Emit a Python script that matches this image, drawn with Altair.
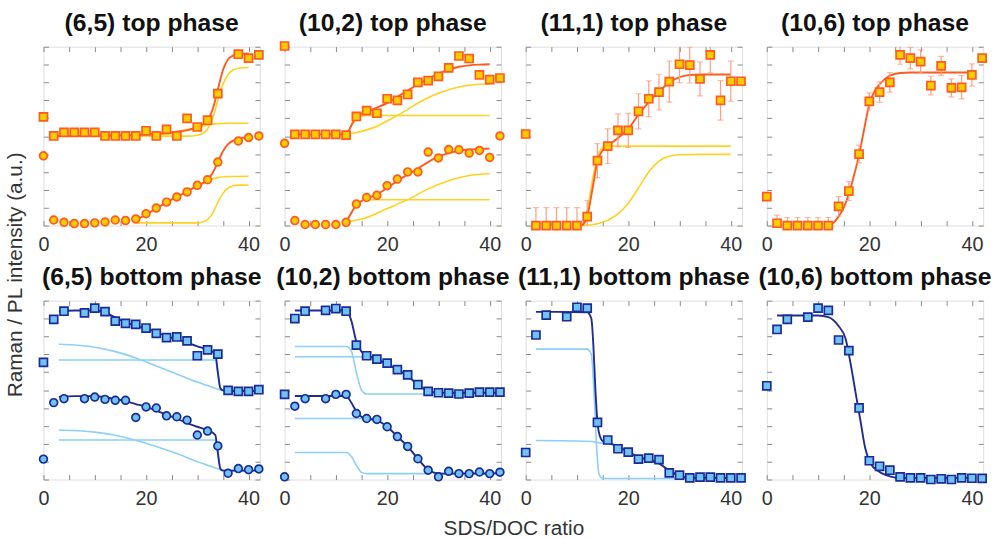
import altair as alt
import pandas as pd

# ---------------- data ----------------
X_PTS = list(range(0, 43, 2))

# top phase panels
TOP65_SQ = [6.08, 5.01, 5.21, 5.21, 5.21, 5.21, 5.01, 5.01, 5.01, 5.01, 5.30, 5.01, 5.38, 5.01, 5.99, 5.51, 5.89, 7.38, None, 9.58, 9.36, 9.54]
TOP65_CI = [3.90, 0.31, 0.18, 0.11, 0.11, 0.15, 0.20, 0.31, 0.28, 0.37, 0.66, 0.98, 1.31, 1.60, 1.88, 2.25, 2.56, 3.55, None, 4.73, 4.92, 5.01]
TOP65_SQ_FIT_X = [2, 10, 20, 26, 30, 32, 33, 34, 35, 36, 37, 38, 40]
TOP65_SQ_FIT_Y = [5.0, 5.02, 5.1, 5.25, 5.5, 5.9, 6.5, 7.6, 8.7, 9.3, 9.5, 9.6, 9.63]
TOP65_SQ_C1_X = [2, 28, 30, 31, 32, 33, 34, 35, 36, 37, 38, 40]
TOP65_SQ_C1_Y = [5.0, 5.0, 5.05, 5.15, 5.4, 6.0, 7.0, 7.9, 8.45, 8.7, 8.8, 8.84]
TOP65_SQ_C2_X = [2, 20, 24, 28, 30, 32, 34, 36, 40]
TOP65_SQ_C2_Y = [5.0, 5.05, 5.12, 5.3, 5.45, 5.62, 5.7, 5.72, 5.72]
TOP65_CI_FIT_X = [18, 20, 22, 24, 26, 28, 30, 32, 33, 34, 35, 36, 37, 38, 40]
TOP65_CI_FIT_Y = [0.3, 0.62, 0.96, 1.3, 1.6, 1.9, 2.22, 2.55, 2.95, 3.55, 4.15, 4.55, 4.75, 4.85, 4.95]
TOP65_CI_C1_X = [18, 20, 22, 24, 26, 28, 30, 32, 34, 36, 40]
TOP65_CI_C1_Y = [0.3, 0.62, 0.96, 1.3, 1.6, 1.9, 2.22, 2.5, 2.68, 2.74, 2.76]
TOP65_CI_C2_X = [18, 30, 31, 32, 33, 34, 35, 36, 37, 38, 40]
TOP65_CI_C2_Y = [0.15, 0.15, 0.2, 0.35, 0.7, 1.3, 1.8, 2.1, 2.22, 2.26, 2.27]

TOP102_SQ = [10.04, 5.10, 5.10, 5.10, 5.10, 5.10, 5.06, 6.10, 6.43, 6.28, 7.09, 7.00, 7.33, 8.01, 8.10, 8.34, 8.82, 9.48, 9.34, 8.42, 8.16, 8.25]
TOP102_CI = [4.60, 0.28, 0.06, 0.06, 0.06, 0.06, 0.18, 1.20, 1.57, 1.69, 2.23, 2.60, 3.00, 3.00, 4.11, 3.78, 4.25, 4.24, 4.05, 4.20, 3.81, 5.01]
TOP102_SQ_FIT_X = [2, 12, 13, 14, 16, 18, 20, 22, 24, 26, 28, 30, 32, 34, 36, 38, 40]
TOP102_SQ_FIT_Y = [5.1, 5.1, 5.6, 6.1, 6.35, 6.6, 6.85, 7.2, 7.55, 7.9, 8.2, 8.5, 8.72, 8.88, 8.96, 9.0, 9.02]
TOP102_SQ_C1_X = [2, 12, 13, 14, 15, 16, 40]
TOP102_SQ_C1_Y = [5.1, 5.1, 5.55, 5.95, 6.12, 6.15, 6.15]
TOP102_SQ_C2_X = [12, 14, 16, 18, 20, 22, 24, 26, 28, 30, 32, 34, 36, 38, 40]
TOP102_SQ_C2_Y = [5.1, 5.2, 5.35, 5.55, 5.85, 6.15, 6.5, 6.85, 7.15, 7.4, 7.6, 7.75, 7.85, 7.9, 7.92]
TOP102_CI_FIT_X = [12, 13, 14, 16, 18, 20, 22, 24, 26, 28, 30, 32, 34, 36, 38, 40]
TOP102_CI_FIT_Y = [0.18, 0.7, 1.15, 1.5, 1.75, 2.1, 2.5, 2.85, 3.2, 3.55, 3.85, 4.05, 4.18, 4.25, 4.28, 4.3]
TOP102_CI_C1_X = [12, 13, 14, 15, 16, 40]
TOP102_CI_C1_Y = [0.18, 0.7, 1.15, 1.4, 1.44, 1.44]
TOP102_CI_C2_X = [12, 16, 20, 24, 28, 32, 36, 40]
TOP102_CI_C2_Y = [0.18, 0.45, 0.95, 1.45, 2.05, 2.5, 2.8, 2.9]

TOP111_SQ = [5.12, 0.0, 0.0, 0.0, 0.0, 0.0, 0.50, 3.63, 4.44, 5.32, 5.32, 6.39, 7.09, 7.46, 8.05, 9.02, 8.97, 8.20, 9.54, 7.00, 8.07, 8.07]
TOP111_ERR = [None, 1.0, 1.0, 1.0, 1.0, 1.0, 0.9, 0.95, 0.97, 0.92, 0.95, 0.98, 1.0, 1.0, 1.15, 1.03, 1.0, 0.95, 1.0, 1.1, 1.12, None]
TOP111_FIT_X = [11, 12, 13, 14, 15, 16, 18, 20, 22, 24, 26, 28, 30, 32, 34, 36, 40]
TOP111_FIT_Y = [0.0, 0.5, 2.0, 3.6, 4.2, 4.45, 4.9, 5.4, 6.2, 6.9, 7.5, 8.0, 8.3, 8.42, 8.45, 8.45, 8.45]
TOP111_C1_X = [11, 12, 13, 14, 15, 16, 40]
TOP111_C1_Y = [0.0, 0.8, 2.5, 3.8, 4.35, 4.44, 4.44]
TOP111_C2_X = [11, 14, 16, 18, 20, 22, 24, 26, 28, 30, 34, 40]
TOP111_C2_Y = [0.0, 0.1, 0.3, 0.65, 1.25, 2.1, 3.0, 3.6, 3.88, 3.96, 3.98, 3.98]

TOP106_SQ = [1.62, 0.13, 0.0, 0.0, 0.0, 0.0, 0.0, 1.07, 1.93, 4.00, 6.94, 7.46, 8.01, 9.54, 9.36, 9.17, 7.83, 8.93, 7.70, 7.73, 8.42, 9.36]
TOP106_ERR = [None, 0.45, 0.45, 0.45, 0.45, 0.45, 0.45, 0.55, 0.53, 0.50, 0.48, 0.57, 0.55, 0.52, 0.60, 0.65, 0.52, 0.53, 0.50, 0.65, 0.62, None]
TOP106_FIT_X = [12, 13, 14, 15, 16, 17, 18, 19, 20, 21, 22, 24, 26, 28, 39.5]
TOP106_FIT_Y = [0.0, 0.15, 0.5, 1.0, 1.75, 2.8, 3.95, 5.4, 6.8, 7.5, 7.9, 8.38, 8.53, 8.56, 8.56]

# bottom phase panels
BOT65_SQ = [6.55, 8.95, 9.41, None, 9.32, 9.58, 9.39, 8.86, 8.73, 8.67, 8.47, 8.17, 7.93, 7.97, 7.75, 6.92, 7.25, 7.01, 4.98, 4.93, 4.93, 5.02]
BOT65_CI = [1.14, 4.30, 4.52, None, 4.52, 4.61, 4.48, 4.43, 4.43, 3.47, 4.06, 4.00, 3.56, 3.51, 3.32, 2.49, 2.71, 1.88, 0.35, 0.61, 0.55, 0.59]
BOT65_SQ_FIT_X = [3, 6, 10, 12, 14, 16, 18, 20, 22, 24, 26, 28, 30, 32, 33.5, 34.0, 34.5, 35, 36, 40, 42]
BOT65_SQ_FIT_Y = [9.4, 9.45, 9.45, 9.35, 9.05, 8.8, 8.6, 8.45, 8.25, 8.0, 7.85, 7.65, 7.45, 7.25, 7.05, 6.0, 5.1, 4.98, 4.95, 4.95, 4.97]
BOT65_SQ_C1_X = [3, 6, 10, 14, 18, 22, 26, 30, 32, 34, 35, 40]
BOT65_SQ_C1_Y = [7.56, 7.52, 7.4, 7.15, 6.8, 6.35, 5.9, 5.45, 5.25, 5.05, 4.98, 4.98]
BOT65_SQ_C2_X = [3, 33.5, 34.0, 34.5, 35, 40]
BOT65_SQ_C2_Y = [6.68, 6.68, 6.0, 5.1, 4.98, 4.98]
BOT65_CI_FIT_X = [3, 6, 10, 12, 14, 16, 18, 20, 22, 24, 26, 28, 30, 32, 33.5, 34, 34.5, 35, 36, 40, 42]
BOT65_CI_FIT_Y = [4.62, 4.66, 4.66, 4.6, 4.5, 4.38, 4.22, 4.06, 3.85, 3.62, 3.4, 3.15, 2.95, 2.75, 2.5, 1.5, 0.6, 0.5, 0.5, 0.5, 0.5]
BOT65_CI_C1_X = [3, 6, 10, 14, 18, 22, 26, 30, 32, 34, 35, 40]
BOT65_CI_C1_Y = [2.77, 2.74, 2.65, 2.48, 2.2, 1.85, 1.45, 1.0, 0.8, 0.6, 0.5, 0.5]
BOT65_CI_C2_X = [3, 33.5, 34, 34.5, 35, 40]
BOT65_CI_C2_Y = [2.21, 2.21, 1.5, 0.6, 0.5, 0.5]

BOT102_SQ = [4.76, 9.00, 9.41, None, 9.46, 9.56, 9.41, 7.51, 6.92, 6.73, 6.51, 6.14, 5.85, 5.30, 4.93, 4.85, 4.83, 4.78, 4.83, 4.89, 4.89, 4.89]
BOT102_CI = [0.15, 4.10, 4.52, None, 4.52, 4.76, 4.76, 3.69, 3.41, 3.36, 2.95, 2.40, 1.85, 1.16, 0.52, 0.15, 0.46, 0.33, 0.33, 0.42, 0.33, 0.41]
BOT102_SQ_FIT_X = [2, 6, 12, 13, 14, 15, 16, 18, 20, 22, 24, 26, 28, 30, 32, 42]
BOT102_SQ_FIT_Y = [9.45, 9.45, 9.45, 8.9, 7.7, 7.15, 6.96, 6.72, 6.46, 6.14, 5.8, 5.28, 4.95, 4.85, 4.85, 4.85]
BOT102_SQ_C1_X = [2, 12, 13, 14, 15, 16, 28]
BOT102_SQ_C1_Y = [7.44, 7.44, 7.2, 6.0, 5.0, 4.78, 4.78]
BOT102_SQ_C2_X = [2, 14, 16, 18, 20, 22, 24, 26, 28, 30, 40]
BOT102_SQ_C2_Y = [6.86, 6.86, 6.8, 6.65, 6.45, 6.14, 5.81, 5.26, 4.93, 4.85, 4.85]
BOT102_CI_FIT_X = [2, 6, 12, 13, 14, 15, 16, 18, 20, 22, 24, 26, 28, 29, 30, 32, 42]
BOT102_CI_FIT_Y = [4.67, 4.67, 4.67, 4.3, 3.8, 3.5, 3.41, 3.3, 2.95, 2.4, 1.85, 1.16, 0.55, 0.4, 0.34, 0.33, 0.35]
BOT102_CI_C1_X = [2, 14, 16, 18, 20, 22, 24, 26, 28, 30, 40]
BOT102_CI_C1_Y = [3.41, 3.41, 3.38, 3.3, 2.95, 2.4, 1.85, 1.16, 0.55, 0.33, 0.33]
BOT102_CI_C2_X = [2, 12, 13, 14, 15, 16, 28]
BOT102_CI_C2_Y = [1.51, 1.51, 1.3, 0.8, 0.4, 0.33, 0.33]

BOT111_SQ = [1.51, 8.08, 9.19, None, 9.10, 9.63, 9.58, 3.19, 2.21, 1.72, 1.53, 1.14, 1.20, 1.11, 0.37, 0.24, 0.09, 0.13, 0.13, 0.09, 0.09, 0.09]
BOT111_FIT_X = [2, 6, 12, 12.8, 13.2, 13.6, 14, 14.5, 15, 16, 18, 20, 22, 24, 26, 28, 30, 32, 40]
BOT111_FIT_Y = [9.37, 9.37, 9.35, 9.0, 7.5, 5.0, 3.2, 2.4, 2.15, 2.05, 1.85, 1.55, 1.25, 1.1, 0.9, 0.5, 0.22, 0.1, 0.09]
BOT111_C1_X = [2, 12, 12.8, 13.3, 13.8, 14.3, 15, 40]
BOT111_C1_Y = [7.29, 7.29, 7.0, 5.0, 2.0, 0.3, 0.06, 0.06]
BOT111_C2_X = [2, 10, 13.5, 14.5, 16, 18, 20, 22, 24, 26, 28, 30, 32, 40]
BOT111_C2_Y = [2.18, 2.15, 2.1, 2.05, 2.0, 1.85, 1.55, 1.25, 1.1, 0.9, 0.5, 0.22, 0.1, 0.09]

BOT106_SQ = [5.24, 8.39, 8.95, None, 9.08, 9.58, 9.46, 7.80, 7.21, 4.00, 1.05, 0.74, 0.52, 0.15, 0.09, 0.09, 0.0, 0.04, 0.0, 0.09, 0.07, 0.06]
BOT106_FIT_X = [2, 10, 12, 14, 15.4, 16.3, 17.3, 18.3, 19.2, 20.2, 21.8, 24, 26, 39.5]
BOT106_FIT_Y = [9.17, 9.17, 9.08, 8.58, 7.84, 6.55, 4.89, 3.23, 1.75, 0.92, 0.46, 0.18, 0.09, 0.09]

TITLES_TOP = ["(6,5) top phase", "(10,2) top phase", "(11,1) top phase", "(10,6) top phase"]
TITLES_BOT = ["(6,5) bottom phase", "(10,2) bottom phase", "(11,1) bottom phase", "(10,6) bottom phase"]
X_TICKS = [0, 5, 10, 15, 20, 25, 30, 35, 40]
Y_TICKS = [0, 1, 2, 3, 4, 5, 6, 7, 8, 9, 10]

# ---------------- styling ----------------
FONT = "Liberation Sans"
W, H = 219, 181
XDOM = [0, 42.2]
YDOM = [0, 10]
STY = {
    "top": dict(fill="#FFCC00", edge="#FF5A1F", fit="#FF5A1F", comp="#FFD21F", err="#FF9C82"),
    "bottom": dict(fill="#6EC3F3", edge="#1B2A96", fit="#1F2C8F", comp="#8CCFF8", err="#8CCFF8"),
}

TICK_KW = dict(tickSize=5, offset=-5, domain=False, grid=False, tickColor="#888888", tickWidth=1, title=None)
AX_BOTTOM = alt.Axis(orient="bottom", values=X_TICKS,
                     labelExpr="datum.value % 20 === 0 ? datum.label : ''",
                     labelFont=FONT, labelFontSize=20, labelColor="#333333", labelPadding=9,
                     labelFlush=False, labelOverlap=False, **TICK_KW)
AX_TOP = alt.Axis(orient="top", values=X_TICKS, labels=False, **TICK_KW)
AX_LEFT = alt.Axis(orient="left", values=Y_TICKS, labels=False, **TICK_KW)
AX_RIGHT = alt.Axis(orient="right", values=Y_TICKS, labels=False, **TICK_KW)


def xs(axis, field="x"):
    return alt.X(f"{field}:Q", scale=alt.Scale(domain=XDOM, nice=False, zero=False), axis=axis)


def ys(axis, field="y"):
    return alt.Y(f"{field}:Q", scale=alt.Scale(domain=YDOM, nice=False, zero=False), axis=axis)


def lines_df(pairs):
    rows = []
    for i, (lx, ly) in enumerate(pairs):
        for a, b in zip(lx, ly):
            rows.append({"x": a, "y": b, "s": i})
    return pd.DataFrame(rows)


def pts_df(vals, err=None):
    d = {"x": X_PTS, "y": vals}
    if err is not None:
        d["e"] = err
    return pd.DataFrame(d).dropna().reset_index(drop=True)


def panel(title, phase, sq, ci=None, err=None, fits=(), comps=(), tdy=0):
    s = STY[phase]
    layers = []
    if comps:
        layers.append(
            alt.Chart(lines_df(comps)).mark_line(interpolate="monotone", color=s["comp"], strokeWidth=1.6)
            .encode(x=xs(None), y=ys(None), detail="s:N"))
    layers.append(
        alt.Chart(lines_df(fits)).mark_line(interpolate="monotone", color=s["fit"], strokeWidth=1.9)
        .encode(x=xs(AX_BOTTOM), y=ys(AX_LEFT), detail="s:N"))
    if err is not None:
        edf = pts_df(sq, err)
        base = alt.Chart(edf).transform_calculate(lo="datum.y - datum.e", hi="datum.y + datum.e")
        layers.append(base.mark_rule(color=s["err"], strokeWidth=1.2, clip=True)
                      .encode(x=xs(None), y=ys(None, "lo"), y2="hi:Q"))
        layers.append(base.transform_fold(["lo", "hi"], as_=["k", "v"])
                      .mark_tick(color=s["err"], thickness=1.2, size=6, orient="horizontal", clip=True)
                      .encode(x=xs(None), y=ys(None, "v")))
    if ci is not None:
        layers.append(
            alt.Chart(pts_df(ci)).mark_point(shape="circle", filled=True, fill=s["fill"], stroke=s["edge"],
                                             strokeWidth=1.7, size=62, opacity=1)
            .encode(x=xs(None), y=ys(None)))
    layers.append(
        alt.Chart(pts_df(sq)).mark_point(shape="square", filled=True, fill=s["fill"], stroke=s["edge"],
                                         strokeWidth=1.7, size=66, opacity=1)
        .encode(x=xs(AX_TOP), y=ys(AX_RIGHT)))
    return (alt.layer(*layers)
            .resolve_axis(x="independent", y="independent")
            .properties(width=W, height=H,
                        title=alt.TitleParams(title, font=FONT, fontSize=25, fontWeight="bold", color="#111111",
                                              anchor="middle", frame="group", offset=10, dy=tdy)))


row1 = alt.hconcat(
    panel(TITLES_TOP[0], "top", TOP65_SQ, ci=TOP65_CI,
          fits=[(TOP65_SQ_FIT_X, TOP65_SQ_FIT_Y), (TOP65_CI_FIT_X, TOP65_CI_FIT_Y)],
          comps=[(TOP65_SQ_C1_X, TOP65_SQ_C1_Y), (TOP65_SQ_C2_X, TOP65_SQ_C2_Y),
                 (TOP65_CI_C1_X, TOP65_CI_C1_Y), (TOP65_CI_C2_X, TOP65_CI_C2_Y)]),
    panel(TITLES_TOP[1], "top", TOP102_SQ, ci=TOP102_CI,
          fits=[(TOP102_SQ_FIT_X, TOP102_SQ_FIT_Y), (TOP102_CI_FIT_X, TOP102_CI_FIT_Y)],
          comps=[(TOP102_SQ_C1_X, TOP102_SQ_C1_Y), (TOP102_SQ_C2_X, TOP102_SQ_C2_Y),
                 (TOP102_CI_C1_X, TOP102_CI_C1_Y), (TOP102_CI_C2_X, TOP102_CI_C2_Y)], tdy=7),
    panel(TITLES_TOP[2], "top", TOP111_SQ, err=TOP111_ERR,
          fits=[(TOP111_FIT_X, TOP111_FIT_Y)],
          comps=[(TOP111_C1_X, TOP111_C1_Y), (TOP111_C2_X, TOP111_C2_Y)]),
    panel(TITLES_TOP[3], "top", TOP106_SQ, err=TOP106_ERR,
          fits=[(TOP106_FIT_X, TOP106_FIT_Y)]),
    spacing=25, bounds="flush",
)

row2 = alt.hconcat(
    panel(TITLES_BOT[0], "bottom", BOT65_SQ, ci=BOT65_CI,
          fits=[(BOT65_SQ_FIT_X, BOT65_SQ_FIT_Y), (BOT65_CI_FIT_X, BOT65_CI_FIT_Y)],
          comps=[(BOT65_SQ_C1_X, BOT65_SQ_C1_Y), (BOT65_SQ_C2_X, BOT65_SQ_C2_Y),
                 (BOT65_CI_C1_X, BOT65_CI_C1_Y), (BOT65_CI_C2_X, BOT65_CI_C2_Y)]),
    panel(TITLES_BOT[1], "bottom", BOT102_SQ, ci=BOT102_CI,
          fits=[(BOT102_SQ_FIT_X, BOT102_SQ_FIT_Y), (BOT102_CI_FIT_X, BOT102_CI_FIT_Y)],
          comps=[(BOT102_SQ_C1_X, BOT102_SQ_C1_Y), (BOT102_SQ_C2_X, BOT102_SQ_C2_Y),
                 (BOT102_CI_C1_X, BOT102_CI_C1_Y), (BOT102_CI_C2_X, BOT102_CI_C2_Y)]),
    panel(TITLES_BOT[2], "bottom", BOT111_SQ,
          fits=[(BOT111_FIT_X, BOT111_FIT_Y)],
          comps=[(BOT111_C1_X, BOT111_C1_Y), (BOT111_C2_X, BOT111_C2_Y)]),
    panel(TITLES_BOT[3], "bottom", BOT106_SQ,
          fits=[(BOT106_FIT_X, BOT106_FIT_Y)]),
    spacing=25, bounds="flush",
)

grid = alt.vconcat(
    row1, row2, spacing=9,
    title=alt.TitleParams("SDS/DOC ratio", orient="bottom", font=FONT, fontSize=21, fontWeight="normal",
                          color="#333333", anchor="middle", offset=10),
)

chart = alt.hconcat(
    grid,
    title=alt.TitleParams("Raman / PL intensity (a.u.)", orient="left", font=FONT, fontSize=21,
                          fontWeight="normal", color="#333333", anchor="middle", offset=10),
).configure_view(stroke="#8a8a8a", strokeWidth=1).configure(background="white", padding={"left": 5, "top": 7, "right": 5, "bottom": 2})

chart.save("out.html", embed_options={"renderer": "svg", "actions": False})
